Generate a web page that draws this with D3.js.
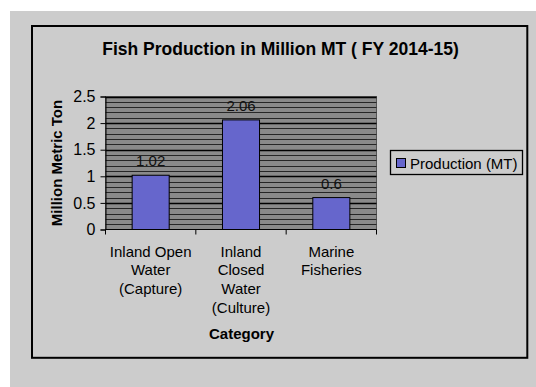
<!DOCTYPE html>
<html>
<head>
<meta charset="utf-8">
<script src="https://cdn.jsdelivr.net/npm/d3@7"></script>
<style>
  html, body { margin: 0; padding: 0; background: #ffffff; }
  svg { display: block; font-family: "Liberation Sans", Arial, sans-serif; }
</style>
</head>
<body>
<svg id="chart" width="536" height="387"></svg>
<script>
// Fish production by category, FY 2014-15 (million metric tons)
const categories = [
  "Inland Open\nWater\n(Capture)",
  "Inland\nClosed\nWater\n(Culture)",
  "Marine\nFisheries"
];
const production = [1.02, 2.06, 0.6];
const yTicks = [0, 0.5, 1, 1.5, 2, 2.5];
const yTickLabels = ["0", "0.5", "1", "1.5", "2", "2.5"];
const minorSteps = d3.range(1, 26).map(i => i / 10);

const seriesName = "Production (MT)";
const titleText = "Fish Production in Million MT ( FY 2014-15)";
const yTitle = "Million Metric Ton";
const xTitle = "Category";

const svg = d3.select("#chart");

// page panel and chart frame
svg.append("rect").attr("x", 10).attr("y", 11).attr("width", 526).attr("height", 376)
  .attr("fill", "#cccccc");
svg.append("rect").attr("x", 32).attr("y", 26).attr("width", 495.3).attr("height", 331.8)
  .attr("fill", "none").attr("stroke", "#000").attr("stroke-width", 2);

// plot area geometry
const plot = { left: 105.5, right: 376.5, top: 96.5, bottom: 229.5 };

const x = d3.scaleBand().domain(categories).range([plot.left, plot.right]).padding(0);
const y = d3.scaleLinear().domain([0, 2.5]).range([plot.bottom, plot.top]);

// plot background
svg.append("rect")
  .attr("x", plot.left).attr("y", plot.top)
  .attr("width", plot.right - plot.left).attr("height", plot.bottom - plot.top)
  .attr("fill", "#8a8a8a").attr("stroke", "#555").attr("stroke-width", 1);

// gridlines every 0.1, darker at the labelled values
const isMajor = d => Math.abs(d * 2 - Math.round(d * 2)) < 1e-6;
svg.append("g").selectAll("line").data(minorSteps).join("line")
  .attr("x1", plot.left).attr("x2", plot.right)
  .attr("y1", d => Math.round(y(d)) + 0.5).attr("y2", d => Math.round(y(d)) + 0.5)
  .attr("stroke", d => isMajor(d) ? "#000" : "#262626")
  .attr("stroke-width", d => isMajor(d) ? 1.4 : 1);

// bars
const barW = x.bandwidth() * 0.41;
svg.append("g").selectAll("rect").data(production).join("rect")
  .attr("x", (d, i) => x(categories[i]) + (x.bandwidth() - barW) / 2)
  .attr("y", d => y(d))
  .attr("width", barW)
  .attr("height", d => y(0) - y(d))
  .attr("fill", "#6666cc").attr("stroke", "#000").attr("stroke-width", 1);

// value labels
svg.append("g").selectAll("text").data(production).join("text")
  .attr("x", (d, i) => x(categories[i]) + x.bandwidth() / 2)
  .attr("y", d => y(d) - 9)
  .attr("text-anchor", "middle")
  .attr("font-size", 15).attr("fill", "#111")
  .text(d => String(d));

// y axis
const yAxis = d3.axisLeft(y).tickValues(yTicks)
  .tickFormat((d, i) => yTickLabels[i]).tickSize(5).tickPadding(5);
const gy = svg.append("g").attr("transform", `translate(${plot.left},0)`).call(yAxis);
gy.select(".domain").attr("stroke", "#000");
gy.selectAll(".tick line").attr("stroke", "#000");
gy.selectAll(".tick text").attr("font-size", 16).attr("fill", "#000")
  .attr("font-family", "Liberation Sans, Arial, sans-serif");

// x axis with ticks at category boundaries
const boundaries = [plot.left].concat(categories.map(c => x(c) + x.bandwidth()));
const gx = svg.append("g");
gx.append("line").attr("x1", plot.left).attr("x2", plot.right)
  .attr("y1", plot.bottom).attr("y2", plot.bottom).attr("stroke", "#000");
gx.selectAll("line.tk").data(boundaries).join("line").attr("class", "tk")
  .attr("x1", d => d).attr("x2", d => d)
  .attr("y1", plot.bottom).attr("y2", plot.bottom + 5).attr("stroke", "#000");

// category labels, one tspan per line
const catText = svg.append("g").selectAll("text").data(categories).join("text")
  .attr("text-anchor", "middle").attr("font-size", 15).attr("fill", "#000")
  .attr("transform", d => `translate(${x(d) + x.bandwidth() / 2},256.5)`);
catText.selectAll("tspan").data(d => d.split("\n")).join("tspan")
  .attr("x", 0).attr("dy", (d, i) => i === 0 ? 0 : 18.7)
  .text(d => d);

// titles
svg.append("text").attr("x", 280.5).attr("y", 54.5).attr("text-anchor", "middle")
  .attr("font-size", 17.5).attr("font-weight", "bold").attr("fill", "#000")
  .text(titleText);
svg.append("text").attr("transform", "translate(61.5,163) rotate(-90)")
  .attr("text-anchor", "middle").attr("font-size", 15).attr("font-weight", "bold")
  .attr("fill", "#000").text(yTitle);
svg.append("text").attr("x", 241.5).attr("y", 338.5).attr("text-anchor", "middle")
  .attr("font-size", 15).attr("font-weight", "bold").attr("fill", "#000")
  .text(xTitle);

// legend
const lg = svg.append("g");
lg.append("rect").attr("x", 390.5).attr("y", 150.5).attr("width", 132).attr("height", 24)
  .attr("fill", "none").attr("stroke", "#000").attr("stroke-width", 1.3);
lg.append("rect").attr("x", 396.5).attr("y", 158.5).attr("width", 9).attr("height", 9)
  .attr("fill", "#6666cc").attr("stroke", "#000").attr("stroke-width", 1);
lg.append("text").attr("x", 410).attr("y", 168.5).attr("font-size", 15).attr("fill", "#000")
  .text(seriesName);
</script>
</body>
</html>
